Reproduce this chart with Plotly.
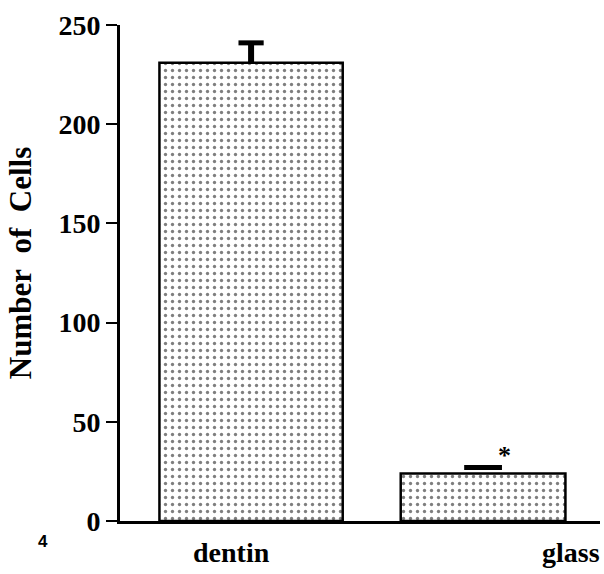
import plotly.graph_objects as go

categories = ["dentin", "glass"]
values = [231, 24]
err_plus = [10, 3]
y_ticks = [0, 50, 100, 150, 200, 250]
y_title = "Number\u00a0\u00a0of\u00a0\u00a0Cells"
fig_label = "4"

serif = "Liberation Serif"
widths = [0.79, 0.71]
cap_len = [18, 27]
stem_thick = [6, 0.01]

fig = go.Figure()
for i, c in enumerate(categories):
    fig.add_trace(go.Bar(
        x=[c], y=[values[i]], width=[widths[i]],
        marker=dict(color="white", line=dict(color="black", width=2.5),
                    pattern=dict(shape=".", fgcolor="black", bgcolor="white",
                                 size=7, solidity=0.18, fillmode="overlay")),
        error_y=dict(type="data", symmetric=False, array=[err_plus[i]], arrayminus=[0],
                     color="black", thickness=stem_thick[i], width=0),
        showlegend=False,
    ))
    fig.add_trace(go.Scatter(
        x=[c], y=[values[i] + err_plus[i]], mode="markers",
        marker=dict(symbol="line-ew", size=cap_len[i], line=dict(color="black", width=5)),
        showlegend=False, hoverinfo="skip",
    ))

fig.update_layout(
    width=604, height=574,
    margin=dict(l=120, r=4, t=25, b=53),
    paper_bgcolor="white", plot_bgcolor="white",
    barmode="overlay",
    font=dict(family=serif, color="black"),
    xaxis=dict(range=[-0.565, 1.504], showline=True, linecolor="black", linewidth=3,
               showticklabels=False, ticks="", showgrid=False, zeroline=False),
    yaxis=dict(range=[0, 250], tickvals=y_ticks, showline=True, linecolor="black", linewidth=3,
               ticks="outside", ticklen=11, tickwidth=2, tickcolor="black",
               tickfont=dict(family=serif, size=28, color="black", weight="bold"),
               showgrid=False, zeroline=False),
)

fig.add_annotation(xref="paper", yref="paper", x=-0.208, y=0.52, text=y_title, textangle=-90,
                   showarrow=False, xanchor="center", yanchor="middle",
                   font=dict(family=serif, size=31, color="black", weight="bold"))

label_shift = [-20, 88]
for i, c in enumerate(categories):
    fig.add_annotation(x=c, y=0, yref="y", text=c, showarrow=False, xshift=label_shift[i],
                       yanchor="middle", yshift=-31,
                       font=dict(family=serif, size=28, color="black", weight="bold"))

fig.add_annotation(x="glass", y=values[1], text="*", showarrow=False, xshift=21, yshift=18,
                   font=dict(family=serif, size=26, color="black", weight="bold"))
fig.add_annotation(xref="paper", yref="paper", x=-0.175, y=-0.064, text=fig_label, showarrow=False,
                   font=dict(family="Liberation Sans", size=17, color="black", weight="bold"))

fig.write_html("out.html")
